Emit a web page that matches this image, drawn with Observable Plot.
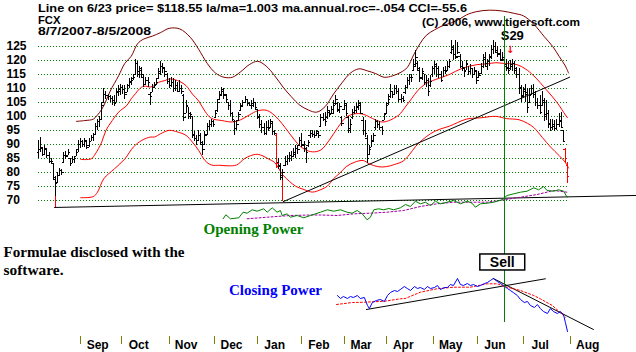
<!DOCTYPE html>
<html><head><meta charset="utf-8">
<script src="https://cdn.jsdelivr.net/npm/d3@7"></script>
<script src="https://cdn.jsdelivr.net/npm/@observablehq/plot@0.6"></script>
<style>
html,body{margin:0;padding:0;background:#fff;}
#chart{position:relative;width:636px;height:352px;overflow:hidden;background:#fff;}
#chart svg{position:absolute;left:0;top:0;}
</style></head><body><div id="chart"></div>
<script>
// ---------- DATA (trading-day index 0 = 8/7/2007 ... 251 = 8/5/2008) ----------
const yTicks = [125,120,115,110,105,100,95,90,85,80,75,70];
const monthNames = ["Sep","Oct","Nov","Dec","Jan","Feb","Mar","Apr","May","Jun","Jul","Aug"];
const monthTickIdx = [20,39.5,62,83.5,104,125,145,165,187.5,208.5,230,252.5];
const sellIdx = 221;
const redBarIdx = [113,250,251];
const signalMarks = [{i:8, top:75.3, bottom:67.5},{i:116, top:77.4, bottom:69.5}];

const opens = [
87,88,88.5,86.5,88,86,84,83,77.5,76.5,
79,80.5,83.5,86,86,85,83,84.5,85.5,88,
90,91,90,91,89.5,91,92.5,93.5,96.5,98,
99,105,108,107.5,107,106.5,105.5,105,108.5,109,
110.5,109.5,108.5,111,112,113.5,115,119,115,116.5,
114,111.5,113,108,108.5,110.5,111.5,113.5,115.5,118,
117,115,112.5,111,112,110,111,109,110,107.5,
101,103.5,100,100,93,92,91.5,93,90,90,
93.5,96.5,97,98,99.5,102,106,108,109.5,107.5,
105,104,101,98,95.5,98.5,102,104,105,106,
104.5,104,104,105,102.5,99.5,97,96,94,96,
96,97.5,94.5,93,83.5,82.5,78,82.5,84,85,
86,85.5,86.5,88.5,89.5,91.5,90,88.5,89.5,93,
94,93.5,93,94,96.5,99.5,99,99.5,101.5,101,
101,104.5,104.5,102,99.5,102.5,104,99.5,95,99.5,
101.5,102,103,104,98.5,95,92,86.5,89,91,
96,98,97,96,98.5,101,104.5,107,109,108,
110,109,106,106.5,108.5,110.5,113,114,116.5,118.5,
119,116.5,114,115.5,112,113,111,115,117,118.5,
117,115,113,116.5,116.5,118,123,124,122,121.5,
121.5,118,117,116.5,118.5,116,117,115,116,114,
115.5,118,121,118,119.5,121.5,124,125,123,122.5,
120,120.5,118,117.5,117,118,119,116.5,115,110.5,
107.5,109.5,108.5,105,108,110,108,105,104,104,
105.5,100.5,101,97.5,96,97,95.5,97,98.5,95,
88,82.5];
const highs = [
91.5,92.5,89,89.5,88,87,85,83,78.5,80,
81.5,81,87,87.5,88,85,85.5,85.5,88,91.5,
92,91.5,92,91,92,93,94,97.5,99,100,
105,110,109,108,107.5,107,107.5,110,111,111.5,
111,111,111.5,113.5,114,115,120.5,119.5,118,117.5,
114.5,114,114,108.5,111.5,112,113.5,117,119.5,119,
117.5,115.5,113.5,114,113.5,113,112,113,111,108,
105.5,103,101.5,100,94.5,93,95,94,91,94.5,
97.5,98.5,99,98.5,102,106,109,110.5,110,108,
105,105.5,101.5,98.5,98.5,101.5,104.5,105.5,107,106,
105,105.5,106.5,105,102.5,100.5,98.5,97.5,98,98.5,
99,98,95,94,85,83,81,85.5,86,87,
87.5,88.5,89.5,89.5,92.5,94,91,89,91.5,95,
95,94.5,95,94.5,100.5,101,101.5,103.5,102,103.5,
105.5,107.5,105,104.5,100,105.5,104.5,100,99,102.5,
103.5,104.5,105.5,105,99.5,98.5,93,89.5,93,94,
99,98.5,98,96.5,101,105,108,111.5,109,111,
111,110,108,107,111,114,115,115,120.5,123.5,
119.5,117.5,117,115,114.5,113.5,114.5,118,119.5,119,
118,116,117.5,118,119.5,120.5,127,125.5,127,126.5,
122,119.5,117.5,120,118,118.5,117,117.5,116,116,
119,122,123,120.5,122,125.5,127,126.5,125,124,
123,120,120.5,119.5,120,120.5,119.5,117.5,117,111,
110.5,111.5,110,110,111,111.5,109,106.5,107.5,109,
106.5,105.5,102,99,99,98.5,99,101,101.5,95,
88.5,83.5];
const lows = [
85,87,85.5,86,85,83,83,77.5,71.5,76,
78.5,79,83,84.5,86,82,83,83,85.5,87,
88.5,89,89,88,89,91,91,93,95,96,
98.5,105,106,105.5,105,104,103.5,105,107,107.5,
108,106,108.5,110,111,113,114.5,114,113.5,113.5,
110.5,111,110.5,104,108.5,110,111,113.5,114.5,115.5,
114,111.5,110,110.5,108.5,109,108.5,109,108,98,
101,99,99,92,91,89.5,91,89.5,86,89.5,
93,95,96,96,99.5,101.5,106,107.5,106,104.5,
102,100,98,93,95,98.5,102,103.5,104.5,103.5,
103.5,102.5,103,102,99,95.5,94,93,93,94.5,
95.5,93,93,81.5,81,77,77,82,82.5,83.5,
84,85.5,85,86.5,89.5,89,87,83,89,92,
92.5,92,93,92,96,98,96.5,99,99.5,100.5,
100.5,104,101.5,101,96.5,102,100,94,94,99,
100.5,101,102,100.5,93,92.5,83,86,89,90.5,
95,95.5,95,93,98.5,100.5,104,106.5,106.5,107.5,
108,105,104.5,105,108,110,111,112,116,118,
116,112,113,111,110.5,107,110.5,114,115,114,
113.5,112,114,115,116,117,122,120,120.5,122,
117,116,114,116.5,114.5,115,113.5,114.5,111.5,113.5,
115,117,117.5,116.5,118,120.5,122,122.5,121,119.5,
119.5,117,116,115,116.5,116,115,113.5,108,105,
106.5,105,101,104.5,107.5,106.5,103.5,102.5,100.5,103.5,
98,98.5,95.5,94.5,95,94.5,95,96,95.5,90.5,
83,76];
const closes = [
88,89,86.5,88.5,86,84,84,78,76,79,
80.5,80,86,85.5,87,83,84.5,85,87,90,
91,90,91.5,89,91,92.5,93.5,96.5,98,99,
104,108,107.5,107,106.5,105.5,104.5,109,109.5,110.5,
109.5,108,111,112.5,113,114,119,116,117,115,
111.5,113,112,107,110.5,111,112,116,118,117.5,
116,112.5,111,112,110,111,109,110,109,99.5,
104,101,100.5,93.5,92,91.5,93,90.5,88,93,
96.5,97,98,97,101,105,107.5,109,108,106,
104,101,99,95.5,97,100.5,103.5,105,106,104.5,
104,104.5,105,103,100,97,96,94,96,95.5,
98,94.5,94,83,82,79,80,84,85,86,
85.5,87,88.5,88,91.5,89.5,88.5,87,90.5,94,
93.5,93,94.5,93,99.5,99,98,102,100.5,102.5,
104,106,102.5,103.5,97.5,104.5,101,95.5,97,101.5,
102,103.5,104.5,101,95,94,85,88,91.5,93,
98,97,96,95,100.5,104,106,109,108,110,
109,106,106.5,105.5,110.5,113,114,114,118,121,
117,113.5,116,112,113,109,112.5,117,118,117,
115,113,116.5,116,118,119.5,124.5,122,121,123,
118,117.5,116,119,116,117,115,116.5,113,114.5,
118,120.5,119,119.5,121,124,125,123.5,122,120.5,
121,118.55,117,116.5,118.5,119,117,115,110,107,
109,108,103,107.5,110,108,105,104,101.5,105,
100,101,97,96,96.5,95.5,97,98,96,91,
85,78.5];

// bands [dayIndex, price]
const upperBand = [[18,98.2],[22,98.5],[26,99],[28,100.5],[30,102.5],[32,105.5],[34,109],[38,114.5],[41,119],[44,121.5],[47,126],[50,127.7],[54,128.7],[58,130],[62,131.5],[67,131.3],[72,128.3],[76,124],[80,119],[84,115.5],[88,114],[92,114],[96,116],[100,118.5],[104,119.7],[108,118],[112,114.6],[116,110.5],[120,107],[124,104],[128,102.3],[132,101.5],[136,103.5],[140,108],[144,112],[148,115.5],[152,117],[156,116.3],[160,115.3],[164,114],[168,114.5],[172,115.8],[175,117.5],[178,122],[181,126],[184,129],[188,131],[192,132.5],[196,133.5],[200,134.9],[203,136.3],[208,137.5],[214,138],[220,137.7],[226,136.8],[230,136],[235,133],[240,128.5],[244,125],[247,121.5],[250,118],[251.5,115.5]];
const midBand = [[20,84.6],[25,84.8],[27,86.6],[30,90.8],[32,95],[35,98.5],[38,101.5],[42,104],[44,106.3],[46,108.1],[48,109.9],[50,110.8],[53,110.5],[55,111],[57,112.2],[60,112.8],[62,113.4],[66,112.8],[70,111],[73,108],[76,105.5],[79,101.8],[82,99.3],[87,98.5],[92,98],[96,98.8],[100,100.5],[104,102],[108,102.2],[111,101],[114,98.8],[117,96],[120,93],[123,90.2],[126,88.3],[130,87.3],[134,88],[138,91.5],[142,96],[146,99.7],[150,100.9],[154,100.8],[157,99.8],[160,98.7],[163,98],[166,98.4],[171,100.5],[174,103.3],[177,106.3],[180,109.3],[184,111.8],[187,112.8],[190,113.6],[195,115],[201,117.2],[208,118.5],[213,118.8],[217,119.2],[220,119],[227,118.5],[231,117],[235,114.5],[241,109.5],[246,105],[250,100.5],[251,99.5]];
const lowBand = [[20,70.9],[26,71.3],[28,72.9],[31,77.7],[36,81.2],[41,84.8],[45,89],[49,91.4],[53,92.6],[55,92.6],[58,93.8],[62,95],[66,94.4],[70,93.2],[73,90.8],[76,87.8],[79,84.2],[82,82.6],[86,82.5],[90,82.3],[94,82.6],[98,85],[103,86.4],[106,86],[109,84.8],[112,83.5],[116,79],[119,76.8],[122,75],[126,73.8],[130,72.9],[134,73.8],[137,75],[140,77.7],[143,79.7],[146,82],[150,83.6],[154,84.2],[157,83],[161,82],[165,82],[169,82.8],[173,84],[176,86.3],[179,89.3],[182,91.5],[186,93.8],[190,95.3],[195,96.5],[203,99],[210,99.5],[217,100],[222,99.2],[228,98.8],[232,97.5],[235,96],[239,92.5],[243,89],[247,86],[250,83.5],[251.5,81.5]];
const priceTrend = [[116.2,69.5],[252,114]];
const baseLine = [[7.6,67.4],[283.7,71.7]];

// Opening Power (indicator units) [dayIndex, value]
const openingPower = [[87.6,7.7],[88.9,11.7],[91.1,7.7],[95,8.7],[97.1,14.3],[99,13.3],[101.4,16.7],[103.7,15.3],[106.9,17.7],[108.5,14.3],[110.9,18.7],[113.2,14.3],[114.8,16],[115.6,11],[118,12.7],[119.5,9.3],[122.7,11],[125.9,8.7],[129,11],[133.8,14.3],[137,16.7],[140.1,15.3],[143.3,16.7],[146.4,14.3],[148.8,13.3],[151.2,16],[153.6,12.7],[155.9,6.7],[157.5,9.3],[159.1,16.7],[161.4,17.7],[163.8,16.7],[166.2,18],[168.5,16.7],[171.7,18.7],[174.1,22],[176.5,20],[178.8,25.3],[181.2,22.7],[183.6,24.3],[186,21],[188.3,25.3],[190.7,22.7],[193.9,24.3],[197,26],[200.2,22.7],[203.4,25.3],[205.7,23.3],[207.3,19.3],[209.7,22.7],[212.9,23.3],[216,24.3],[220,26.7],[222.3,31],[225.5,32.7],[228.7,34.3],[231.8,35.3],[235,38.7],[237.3,36.7],[239.7,40],[241.3,36],[244.5,35.3],[246.8,36.7],[249.2,35.3],[250.8,29.3]];
const openingPowerMA = [[99,7.7],[108.5,9.3],[119.5,11],[129,11.5],[133.8,11.5],[141.7,11],[149.6,12.7],[157.5,13.3],[165.4,14.3],[173.3,16],[181.2,20],[189.1,22.7],[197,24.3],[204.9,24.3],[212.9,24.3],[220.7,26.7],[228.7,29.3],[236.6,32],[244.5,36],[250.8,34.3]];

// Closing Power (indicator units) [dayIndex, value]
const closingPower = [[141.8,40],[143.3,37],[144.7,39],[146.6,37],[148,39],[149.4,38],[151.3,40],[152.7,37],[154.6,38],[156.1,30],[157,27],[158.4,33],[160.3,35],[162.2,36],[164.1,34],[165.6,40],[167,43],[168.9,45],[170.3,44],[171.7,46],[173.6,49],[175,47],[176.5,45],[178.4,49],[179.8,47],[181.2,48],[183.1,46],[184.5,49],[186,47],[187.9,48],[189.3,50],[190.7,46],[192.6,48],[194,48],[195.4,51],[196.9,50],[198.8,57],[200.2,51],[201.6,50],[203.5,52],[204.9,50],[206.4,51],[208.3,49],[209.7,50],[211.6,52],[213,53],[214.4,55],[215.8,57],[217.7,54],[219.2,52],[220.6,50],[222.5,47],[223.9,45],[225.3,43],[227.2,40],[228.7,36],[230.5,33],[232,34],[233.4,30],[235.3,28],[236.7,31],[238.1,27],[239.6,24],[241.5,22],[242.9,27],[244.3,24],[246.2,22],[247.6,24],[249.1,21],[250,13],[251,4]];
const closingPowerMA = [[141.4,31],[149,33],[154.8,33.3],[164.4,34.3],[171.7,36.7],[174,37],[181.2,43.3],[189.1,46.7],[197,48.3],[204.9,48.3],[212.9,51.7],[217.6,51.7],[222.3,48.3],[228.7,45],[235,40],[238.1,36.7],[243.8,30],[250,18.3]];
const cpTrendUp = [[155.6,26],[240.5,56.7]];
const cpTrendDown = [[215.8,57],[263.3,6]];

// ---------- DRAWING ----------
const W = 636, H = 352;
const X = {domain:[0,251], range:[38,567], axis:null};
const sans = "'Liberation Sans', Arial, sans-serif";
const serif = "'Liberation Serif', 'Times New Roman', serif";
const base = {width:W, height:H, style:{background:"transparent", fontFamily:sans, overflow:"visible"}};
const chart = document.getElementById("chart");

const bars = closes.map((c,i)=>({i, o:opens[i], h:highs[i], l:lows[i], c, col: redBarIdx.includes(i) ? "#ff0000" : "#000000"}));

const main = Plot.plot({
  ...base, marginLeft:38, marginRight:69, marginTop:46, marginBottom:152.3,
  x: X,
  y: {domain:[70,125], range:[199.7,46], axis:null},
  color: {type:"identity"},
  marks: [
    Plot.ruleY(yTicks, {x1:0, x2:251, stroke:"#008000", strokeDasharray:"1,2", shapeRendering:"crispEdges"}),
    Plot.text(yTicks, {y:d=>d, text:d=>String(d), frameAnchor:"left", textAnchor:"start", dx:-32, fontSize:12, fontWeight:"bold", fill:"#000"}),
    Plot.line(baseLine, {stroke:"#000", strokeWidth:1}),
    Plot.line(upperBand, {stroke:"#800000", strokeWidth:1, curve:"catmull-rom"}),
    Plot.line(midBand, {stroke:"#ff0000", strokeWidth:1, curve:"catmull-rom"}),
    Plot.line(lowBand, {stroke:"#ff0000", strokeWidth:1, curve:"catmull-rom"}),
    Plot.line(priceTrend, {stroke:"#000", strokeWidth:1}),
    Plot.ruleX(signalMarks, {x:"i", y1:"top", y2:"bottom", stroke:"#ff0000", shapeRendering:"crispEdges"}),
    Plot.ruleX(bars, {x:"i", y1:"l", y2:"h", stroke:"col", shapeRendering:"crispEdges"}),
    Plot.link(bars, {x1:d=>d.i-0.9, x2:"i", y1:"o", y2:"o", stroke:"col", shapeRendering:"crispEdges"}),
    Plot.link(bars, {x1:"i", x2:d=>d.i+0.9, y1:"c", y2:"c", stroke:"col", shapeRendering:"crispEdges"}),
    Plot.text([sellIdx], {x:d=>d, text:()=>"S29", frameAnchor:"top", lineAnchor:"middle", dx:8, dy:-10.5, fontSize:13, fontWeight:"bold", fill:"#000"}),
    Plot.text([sellIdx], {x:d=>d, text:()=>"\u2193", frameAnchor:"top", lineAnchor:"middle", dx:6, dy:3.5, fontSize:10, fontWeight:"bold", fill:"#ff0000", fontFamily:"'DejaVu Sans', sans-serif"})
  ]
});
chart.appendChild(main);

const op = Plot.plot({
  ...base, marginLeft:38, marginRight:69, marginTop:186, marginBottom:126,
  x: X, y: {domain:[0,40], range:[226,186], axis:null},
  marks: [
    Plot.line(openingPowerMA, {stroke:"#a000a0", strokeWidth:1, strokeDasharray:"2,2"}),
    Plot.line(openingPower, {stroke:"#008000", strokeWidth:1})
  ]
});
chart.appendChild(op);

const cp = Plot.plot({
  ...base, marginLeft:38, marginRight:69, marginTop:275, marginBottom:17,
  x: X, y: {domain:[0,60], range:[335,275], axis:null},
  marks: [
    Plot.line(cpTrendUp, {stroke:"#000", strokeWidth:1}),
    Plot.line(cpTrendDown, {stroke:"#000", strokeWidth:1}),
    Plot.line(closingPowerMA, {stroke:"#ff0000", strokeWidth:1, strokeDasharray:"2,2"}),
    Plot.line(closingPower, {stroke:"#0000ff", strokeWidth:1})
  ]
});
chart.appendChild(cp);

const sig = Plot.plot({
  ...base, marginLeft:38, marginRight:69, marginTop:16, marginBottom:30,
  x: X,
  marks: [
    Plot.ruleX([sellIdx], {stroke:"#008000", shapeRendering:"crispEdges"}),
    Plot.text([sellIdx], {x:d=>d, text:()=>"Sell", frameAnchor:"bottom", lineAnchor:"middle", dx:-2, dy:-60, fontSize:14, fontWeight:"bold", fill:"#000"})
  ]
});
chart.appendChild(sig);
{
  const t = Array.from(sig.querySelectorAll("text")).find(e => e.textContent === "Sell");
  if (t) {
    const bb = t.getBBox();
    const r = document.createElementNS("http://www.w3.org/2000/svg","rect");
    const cy = bb.y + bb.height/2;
    r.setAttribute("x", bb.x - 10); r.setAttribute("width", bb.width + 20);
    r.setAttribute("y", cy - 8); r.setAttribute("height", 16);
    r.setAttribute("fill", "#fff"); r.setAttribute("stroke", "#000"); r.setAttribute("stroke-width", 1.5);
    const tr = t.getAttribute("transform");
    if (tr) r.setAttribute("transform", tr);
    t.parentNode.insertBefore(r, t);
  }
}

const axis = Plot.plot({
  ...base, marginLeft:38, marginRight:69, marginTop:336, marginBottom:8,
  x: X,
  marks: [
    Plot.tickX(monthTickIdx, {x:d=>d, stroke:"#808000", shapeRendering:"crispEdges"}),
    Plot.text(monthTickIdx, {x:d=>d, text:(d,i)=>monthNames[i], frameAnchor:"bottom", lineAnchor:"middle", dx:17, dy:1, fontSize:12, fontWeight:"bold", fill:"#000"})
  ]
});
chart.appendChild(axis);

// text annotations
const ann = d3.create("svg").attr("width", W).attr("height", H).style("white-space","pre");
const texts = [
  {t:"Line on 6/23  price= $118.55  la/ma=1.003  ma.annual.roc=-.054 CCI=-55.6", x:38, y:12, w:429, f:sans, s:11, c:"#000"},
  {t:"FCX", x:38, y:24, w:22.5, f:sans, s:11, c:"#000"},
  {t:"8/7/2007-8/5/2008", x:38, y:34.5, w:113, f:sans, s:11, c:"#000"},
  {t:"(C) 2006, www.tigersoft.com", x:422, y:25.5, w:158, f:sans, s:11, c:"#000"},
  {t:"Opening Power", x:203.5, y:233.5, w:100, f:serif, s:15, c:"#008000"},
  {t:"Formulae disclosed with the", x:3.5, y:257, w:181, f:serif, s:15, c:"#000"},
  {t:"software.", x:3.5, y:275, w:60, f:serif, s:15, c:"#000"},
  {t:"Closing Power", x:229, y:295, w:93, f:serif, s:15, c:"#0000ff"}
];
for (const d of texts) {
  ann.append("text").attr("x", d.x).attr("y", d.y).attr("font-family", d.f).attr("font-size", d.s)
    .attr("font-weight", "bold").attr("fill", d.c).attr("textLength", d.w).attr("lengthAdjust", "spacingAndGlyphs").text(d.t);
}
chart.appendChild(ann.node());
</script></body></html>
